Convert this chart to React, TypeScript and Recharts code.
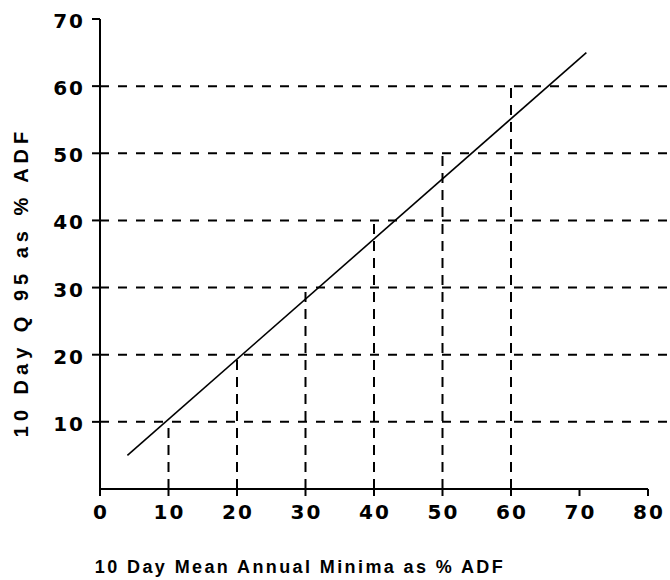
import React from 'react';
import { ComposedChart, Line, XAxis, YAxis, ReferenceLine } from 'recharts';

// values
const xTicks = [0, 10, 20, 30, 40, 50, 60, 70, 80];
const yTicks = [10, 20, 30, 40, 50, 60, 70];
const guideValues = [10, 20, 30, 40, 50, 60];
const fitLine = [
  { x: 4, y: 5 },
  { x: 71, y: 65 },
];
const gridRightEnd = 83;

const font = '"Liberation Sans", Arial, sans-serif';
const labelFont = { fontSize: 20, fontWeight: 700, fontFamily: '"DejaVu Sans", sans-serif', letterSpacing: 2 };

const XTick: React.FC<any> = ({ x, y, payload }) => (
  <text x={x + 1} y={y + 20} textAnchor="middle" style={labelFont} fill="#000">
    {payload.value}
  </text>
);

const YTick: React.FC<any> = ({ x, y, payload }) => (
  <text x={x - 2} y={y + 9} textAnchor="end" style={labelFont} fill="#000">
    {payload.value}
  </text>
);

const XTitle: React.FC<any> = ({ viewBox }) => (
  <text
    x={viewBox.x + viewBox.width / 2 - 74}
    y={viewBox.y + 84}
    textAnchor="middle"
    style={{ fontSize: 18, fontWeight: 700, fontFamily: font, letterSpacing: 2.4 }}
    fill="#000"
  >
    10 Day Mean Annual Minima as % ADF
  </text>
);

const YTitle: React.FC<any> = ({ viewBox }) => {
  const cx = 28;
  const cy = viewBox.y + viewBox.height / 2 + 28;
  return (
    <text
      x={cx}
      y={cy}
      textAnchor="middle"
      transform={`rotate(-90, ${cx}, ${cy})`}
      style={{ fontSize: 20, fontWeight: 700, fontFamily: font, letterSpacing: 5 }}
      fill="#000"
    >
      10 Day Q 95 as % ADF
    </text>
  );
};

export default function App() {
  return (
    <div style={{ position: 'absolute', left: 0, top: 0, background: '#fff' }}>
      <ComposedChart
        width={670}
        height={580}
        data={fitLine}
        margin={{ top: 19, right: 22, bottom: 0, left: 0 }}
      >
        <XAxis
          dataKey="x"
          type="number"
          domain={[0, 80]}
          ticks={xTicks}
          tick={<XTick />}
          tickSize={7}
          tickMargin={3}
          height={91}
          axisLine={{ stroke: '#000', strokeWidth: 2 }}
          tickLine={{ stroke: '#000', strokeWidth: 2 }}
          label={<XTitle />}
        />
        <YAxis
          type="number"
          domain={[0, 70]}
          ticks={yTicks}
          tick={<YTick />}
          tickSize={8}
          tickMargin={5}
          width={100}
          axisLine={{ stroke: '#000', strokeWidth: 2 }}
          tickLine={{ stroke: '#000', strokeWidth: 2 }}
          label={<YTitle />}
        />
        {guideValues.map((v) => (
          <ReferenceLine
            key={'h' + v}
            segment={[{ x: 0, y: v }, { x: gridRightEnd, y: v }]}
            ifOverflow="visible"
            stroke="#000"
            strokeWidth={2}
            strokeDasharray="9 9"
          />
        ))}
        {guideValues.map((v) => (
          <ReferenceLine
            key={'v' + v}
            segment={[{ x: v, y: 0 }, { x: v, y: v }]}
            ifOverflow="visible"
            stroke="#000"
            strokeWidth={2}
            strokeDasharray="10 7"
          />
        ))}
        <Line
          dataKey="y"
          type="linear"
          stroke="#000"
          strokeWidth={1.6}
          dot={false}
          isAnimationActive={false}
        />
      </ComposedChart>
    </div>
  );
}
